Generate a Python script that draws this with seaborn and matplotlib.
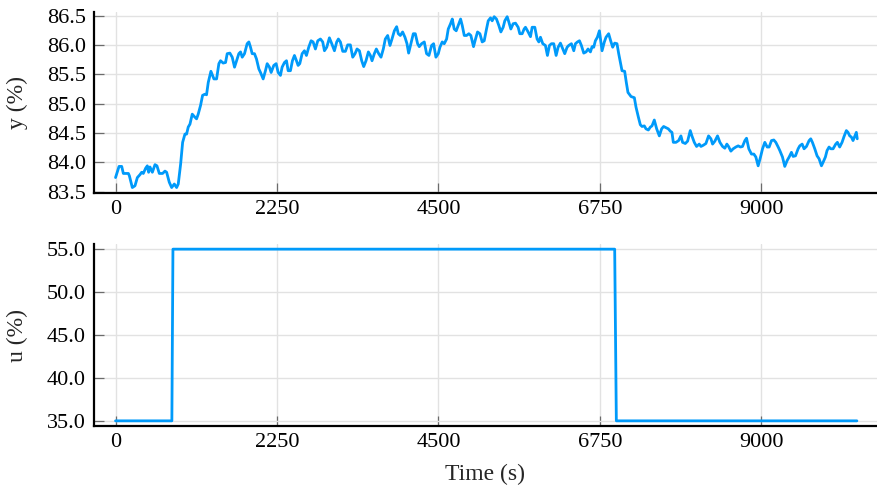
import matplotlib
matplotlib.use("Agg")
import matplotlib.pyplot as plt
import seaborn as sns

# Measured process output y (%) over time (s)
time_y = [
    0, 49, 86, 109, 179, 193, 234, 271, 304, 341, 364, 387, 420, 443, 461, 480,
    513, 550, 577, 610, 656, 689, 712, 749, 782, 819, 851, 874, 907, 935, 967,
    990, 1013, 1037, 1069, 1097, 1129, 1152, 1185, 1213, 1245, 1268, 1292, 1329,
    1371, 1408, 1440, 1463, 1500, 1533, 1556, 1593, 1626, 1658, 1686, 1718, 1742,
    1765, 1797, 1834, 1858, 1881, 1904, 1936, 1964, 1997, 2020, 2057, 2089, 2113,
    2145, 2168, 2205, 2238, 2266, 2298, 2321, 2354, 2382, 2405, 2437, 2465, 2493,
    2521, 2544, 2567, 2600, 2632, 2660, 2692, 2725, 2753, 2785,
    2818, 2855, 2887, 2911, 2943, 2980, 3013, 3050, 3082, 3105, 3133, 3166, 3203,
    3235, 3272, 3305, 3337, 3365, 3398, 3430, 3458, 3490, 3523, 3551, 3574, 3606,
    3634, 3667, 3699, 3731, 3759, 3792, 3824, 3852, 3885, 3917, 3940, 3968, 4000,
    4033, 4061, 4084, 4116, 4149, 4177, 4209, 4232,
    4265, 4302, 4334, 4367, 4404, 4432, 4464, 4497, 4520, 4552, 4580, 4613, 4636,
    4668, 4692, 4719, 4747, 4775, 4808, 4831, 4859, 4891, 4923, 4951, 4988, 5016,
    5044, 5077, 5109, 5137, 5169, 5193, 5225, 5248, 5276, 5308, 5341, 5369, 5401,
    5424, 5457, 5480, 5508, 5540, 5573, 5610, 5633, 5666, 5693,
    5712, 5749, 5782, 5805, 5842, 5874, 5898, 5921, 5953, 5990, 6018, 6046, 6074,
    6106, 6139, 6167, 6199, 6232, 6259, 6292, 6315, 6352, 6385, 6408, 6436, 6464,
    6491, 6524, 6556, 6584, 6617, 6640, 6663, 6686, 6714, 6742, 6779, 6811, 6834,
    6871, 6899, 6927, 6955, 6987, 7011, 7034, 7057, 7094, 7117, 7140,
    7183, 7229, 7252, 7285, 7312, 7336, 7368, 7391, 7424, 7452, 7475, 7507, 7540,
    7577, 7609, 7637, 7670, 7702, 7730, 7753, 7772, 7809, 7846, 7878, 7901, 7939,
    7971, 8008, 8031, 8064, 8096, 8133, 8157, 8189, 8226, 8263, 8296, 8319, 8351,
    8388, 8421, 8458, 8490, 8518, 8541, 8574,
    8606, 8643, 8676, 8708, 8736, 8769, 8792, 8824, 8861, 8894, 8922, 8954, 8987,
    9015, 9047, 9080, 9107, 9140, 9172, 9200, 9233, 9256, 9293, 9325, 9358, 9386,
    9418, 9441, 9474, 9511, 9534, 9567, 9594, 9627, 9664, 9687, 9710, 9743, 9775,
    9803, 9836, 9859, 9891, 9914, 9942, 9965, 9998, 10035, 10058, 10090, 10123,
    10151, 10183, 10206, 10230, 10253, 10276, 10299, 10322, 10335,
]
level_y = [
    83.74, 83.93, 83.93, 83.81, 83.81, 83.77, 83.57, 83.60, 83.74, 83.79, 83.83,
    83.81, 83.90, 83.94, 83.83, 83.92, 83.83, 83.96, 83.94, 83.81, 83.81, 83.85,
    83.83, 83.66, 83.57, 83.63, 83.57, 83.63, 83.97, 84.34, 84.48, 84.48, 84.60,
    84.65, 84.82, 84.78, 84.74, 84.82, 84.97, 85.14, 85.16, 85.15, 85.36, 85.55,
    85.42, 85.42, 85.68, 85.73, 85.69, 85.70, 85.85, 85.86, 85.79, 85.62, 85.73,
    85.85, 85.88, 85.79, 85.85, 86.02, 86.05, 85.96, 85.85, 85.85, 85.76, 85.59,
    85.53, 85.42, 85.56, 85.68, 85.62, 85.53, 85.65, 85.68, 85.53, 85.48, 85.62,
    85.70, 85.73, 85.56, 85.56, 85.73, 85.82, 85.73, 85.65, 85.68, 85.85, 85.90,
    85.82, 85.96, 86.07, 86.05, 85.93,
    86.07, 86.10, 86.05, 85.90, 85.96, 86.12, 86.02, 85.90, 86.05, 86.10, 86.05,
    85.89, 85.89, 86.00, 86.00, 85.79, 85.85, 85.93, 85.90, 85.73, 85.63, 85.73,
    85.88, 85.82, 85.73, 85.85, 85.93, 85.85, 85.79, 85.93, 86.10, 86.16, 85.99,
    86.10, 86.24, 86.31, 86.19, 86.16, 86.22, 86.13, 86.02, 85.86, 86.02, 86.19,
    86.19, 86.02, 85.97,
    86.02, 86.05, 85.85, 85.82, 85.99, 86.02, 85.79, 85.85, 85.96, 86.05, 86.02,
    86.10, 86.27, 86.36, 86.44, 86.27, 86.24, 86.33, 86.44, 86.33, 86.16, 86.16,
    86.19, 86.16, 85.97, 86.10, 86.22, 86.19, 86.05, 86.07, 86.27, 86.41, 86.46,
    86.41, 86.48, 86.44, 86.33, 86.22, 86.30, 86.41, 86.48, 86.39, 86.27, 86.36,
    86.37, 86.30, 86.19, 86.19, 86.27,
    86.30, 86.22, 86.14, 86.30, 86.30, 86.10, 86.05, 86.13, 86.02, 85.99, 85.82,
    85.99, 86.02, 86.02, 85.82, 85.96, 86.03, 85.93, 85.85, 85.96, 85.99, 86.02,
    85.90, 86.02, 86.05, 86.07, 85.99, 85.86, 85.88, 85.93, 85.88, 85.97, 85.96,
    86.07, 86.13, 86.24, 85.90, 86.05, 86.13, 86.19, 86.07, 85.96, 86.03, 86.02,
    85.85, 85.70, 85.56, 85.55, 85.36, 85.19,
    85.12, 85.10, 84.94, 84.77, 84.64, 84.61, 84.62, 84.57, 84.55, 84.60, 84.62,
    84.72, 84.57, 84.45, 84.57, 84.61, 84.59, 84.57, 84.53, 84.51, 84.34, 84.34,
    84.37, 84.45, 84.34, 84.32, 84.36, 84.54, 84.45, 84.34, 84.27, 84.31, 84.27,
    84.29, 84.32, 84.45, 84.40, 84.31, 84.36, 84.45, 84.34, 84.27, 84.24, 84.31,
    84.27, 84.19,
    84.23, 84.26, 84.28, 84.26, 84.27, 84.37, 84.41, 84.23, 84.14, 84.14, 84.09,
    83.94, 84.09, 84.23, 84.34, 84.26, 84.26, 84.37, 84.38, 84.34, 84.26, 84.20,
    84.09, 83.93, 84.03, 84.09, 84.17, 84.10, 84.11, 84.23, 84.28, 84.31, 84.23,
    84.27, 84.37, 84.40, 84.34, 84.23, 84.11, 84.06, 83.94, 84.00, 84.09, 84.20,
    84.26, 84.23, 84.23, 84.31, 84.34, 84.26, 84.34, 84.44, 84.54, 84.51, 84.45,
    84.43, 84.37, 84.44, 84.51, 84.40,
]

# Controller input u (%): step up then step down
time_u = [0, 785, 800, 6955, 6978, 10330]
level_u = [35.0, 35.0, 55.0, 55.0, 35.0, 35.0]

x_ticks = [0, 2250, 4500, 6750, 9000]
y_ticks = [83.5, 84.0, 84.5, 85.0, 85.5, 86.0, 86.5]
u_ticks = [35.0, 40.0, 45.0, 50.0, 55.0]

LINE = "#009AFA"

sns.set_theme(style="white")
plt.rcParams["font.family"] = ["Liberation Serif", "DejaVu Serif"]

fig = plt.figure(figsize=(8.78, 4.90), dpi=100)
W, H = 878, 490
ax_y = fig.add_axes([94 / W, 1 - 193 / H, 783 / W, 181 / H])
ax_u = fig.add_axes([94 / W, 1 - 426 / H, 783 / W, 182 / H])

sns.lineplot(x=time_y, y=level_y, ax=ax_y, color=LINE, linewidth=2.0,
             estimator=None, sort=False)
sns.lineplot(x=time_u, y=level_u, ax=ax_u, color=LINE, linewidth=2.0,
             estimator=None, sort=False)

ax_y.set_ylim(83.477, 86.56)
ax_u.set_ylim(34.4, 55.6)

for ax, yt in ((ax_y, y_ticks), (ax_u, u_ticks)):
    ax.set_xlim(-300, 10610)
    ax.set_xticks(x_ticks)
    ax.set_xticklabels([str(v) for v in x_ticks])
    ax.set_yticks(yt)
    ax.set_yticklabels([f"{v:.1f}" for v in yt])
    ax.grid(True, color="#e2e2e2", linewidth=1.0)
    ax.set_axisbelow(True)
    for side in ("top", "right"):
        ax.spines[side].set_visible(False)
    for side in ("left", "bottom"):
        ax.spines[side].set_color("black")
        ax.spines[side].set_linewidth(1.6)
    ax.tick_params(axis="both", direction="in", length=7, width=0.9,
                   color="#6b6b6b", labelsize=16, labelcolor="black",
                   bottom=True, left=True)
    ax.tick_params(axis="x", pad=5)
    ax.tick_params(axis="y", pad=6)
    ax.set_facecolor("white")

ax_y.set_xlabel("")
ax_y.set_ylabel("y (%)", fontsize=17)
ax_u.set_ylabel("u (%)", fontsize=17)
ax_u.set_xlabel("Time (s)", fontsize=17)
ax_y.yaxis.set_label_coords(-0.084, 0.5)
ax_u.yaxis.set_label_coords(-0.084, 0.5)
ax_u.xaxis.set_label_coords(0.5, -0.21)

fig.savefig("out.png", dpi=100, facecolor="white")
